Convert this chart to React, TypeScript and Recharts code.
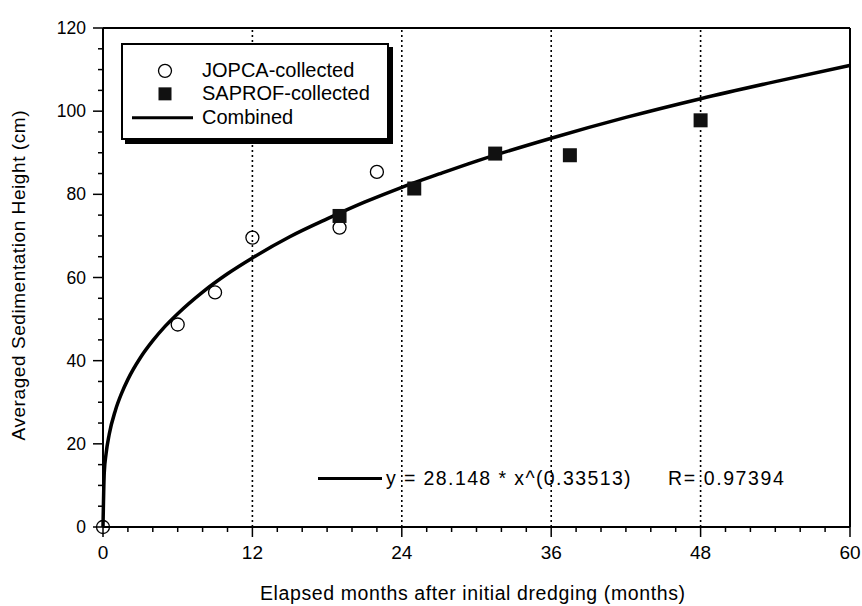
import React from 'react';
import { ComposedChart, XAxis, YAxis, Line, Scatter, ReferenceLine, Legend, Label } from 'recharts';

const FONT = '"Liberation Sans", Arial, Helvetica, sans-serif';

// JOPCA-collected (open circles)
const jopcaX = [0, 6, 9, 12, 19, 22];
const jopcaY = [0, 48.7, 56.4, 69.6, 72.0, 85.4];
// SAPROF-collected (filled squares)
const saprofX = [19, 25, 31.5, 37.5, 48];
const saprofY = [74.8, 81.4, 89.8, 89.4, 97.8];
// Combined fitted curve
const curveX = [0, 0.1, 0.25, 0.5, 1, 1.5, 2, 3, 4, 5, 6, 8, 10, 12, 15, 18, 21, 24, 27, 30, 36, 42, 48, 54, 60];
const curveY = [0, 13.0, 17.7, 22.3, 28.1, 32.2, 35.5, 40.7, 44.8, 48.3, 51.3, 56.5, 60.9, 64.7, 69.8, 74.1, 78.1, 81.7, 84.9, 88.0, 93.5, 98.5, 103.0, 107.1, 111.0];

const seriesNames = ['JOPCA-collected', 'SAPROF-collected', 'Combined'];
const xMajorTicks = [0, 12, 24, 36, 48, 60];
const xMinorTicks = [0, 2, 4, 6, 8, 10, 12, 14, 16, 18, 20, 22, 24, 26, 28, 30, 32, 34, 36, 38, 40, 42, 44, 46, 48, 50, 52, 54, 56, 58, 60];
const yMajorTicks = [0, 20, 40, 60, 80, 100, 120];
const yMinorTicks = [0, 5, 10, 15, 20, 25, 30, 35, 40, 45, 50, 55, 60, 65, 70, 75, 80, 85, 90, 95, 100, 105, 110, 115, 120];
const gridX = [12, 24, 36, 48];
const xTitle = 'Elapsed months after initial dredging (months)';
const yTitle = 'Averaged Sedimentation Height (cm)';
const equationText = 'y = 28.148 * x^(0.33513)';
const rText = 'R= 0.97394';

const jopca = jopcaX.map((x, i) => ({ x, y: jopcaY[i] }));
const saprof = saprofX.map((x, i) => ({ x, y: saprofY[i] }));
const curve = curveX.map((x, i) => ({ x, y: curveY[i] }));

function BottomTick(props: any) {
  const { x, y, payload } = props;
  const v = payload.value;
  const major = xMajorTicks.includes(v);
  return (
    <g>
      <line x1={x} y1={y} x2={x} y2={y + (major ? 10 : 5)} stroke="#000" strokeWidth={1.5} />
      {major && (
        <text x={x} y={y + 32} textAnchor="middle" fontSize={19} fontFamily={FONT} fill="#000">
          {v}
        </text>
      )}
    </g>
  );
}

function TopTick(props: any) {
  const { x, y, payload } = props;
  const major = xMajorTicks.includes(payload.value);
  return <line x1={x} y1={y} x2={x} y2={y - (major ? 10 : 5)} stroke="#000" strokeWidth={1.5} />;
}

function LeftTick(props: any) {
  const { x, y, payload } = props;
  const v = payload.value;
  const major = yMajorTicks.includes(v);
  return (
    <g>
      <line x1={x} y1={y} x2={x - (major ? 10 : 5)} y2={y} stroke="#000" strokeWidth={1.5} />
      {major && (
        <text x={x - 17} y={y + 6} textAnchor="end" fontSize={17.5} fontFamily={FONT} fill="#000">
          {v}
        </text>
      )}
    </g>
  );
}

function RightTick(props: any) {
  const { x, y, payload } = props;
  const major = yMajorTicks.includes(payload.value);
  return <line x1={x} y1={y} x2={x + (major ? 10 : 6)} y2={y} stroke="#000" strokeWidth={1.5} />;
}

const CircleShape = (props: any) => (
  <circle cx={props.cx} cy={props.cy} r={6.5} fill="none" stroke="#000" strokeWidth={1.3} />
);
const SquareShape = (props: any) => (
  <rect x={props.cx - 7} y={props.cy - 7} width={14} height={14} fill="#111" />
);

function LegendIcon({ type }: { type: string }) {
  return (
    <svg width={79} height={23.7} style={{ display: 'block', flex: '0 0 auto' }}>
      {type === 'circle' && <circle cx={42} cy={11.85} r={6.5} fill="none" stroke="#000" strokeWidth={1.3} />}
      {type === 'square' && <rect x={35.5} y={5.35} width={13} height={13} fill="#111" />}
      {type === 'line' && <line x1={9} y1={11.85} x2={70} y2={11.85} stroke="#000" strokeWidth={3} />}
    </svg>
  );
}

function renderLegend(props: any) {
  const payload: any[] = (props.payload || []).slice();
  payload.sort((a, b) => seriesNames.indexOf(a.value) - seriesNames.indexOf(b.value));
  return (
    <div
      style={{
        width: 268,
        height: 97,
        boxSizing: 'border-box',
        border: '2px solid #000',
        boxShadow: '4px 4px 0 #000',
        background: '#fff',
        paddingTop: 13.6,
        fontFamily: FONT,
        fontSize: 20,
        color: '#000',
      }}
    >
      {payload.map((p: any) => (
        <div key={p.value} style={{ display: 'flex', alignItems: 'center', height: 23.7, lineHeight: '23.7px' }}>
          <LegendIcon type={p.type} />
          <span style={{ whiteSpace: 'nowrap' }}>{p.value}</span>
        </div>
      ))}
    </div>
  );
}

export default function App() {
  return (
    <div style={{ position: 'absolute', left: 0, top: 0, width: 862, height: 606, background: '#fff' }}>
      <ComposedChart width={862} height={606} margin={{ top: 10, right: 0, bottom: 0, left: 0 }}>
        <XAxis
          xAxisId="bottom"
          dataKey="x"
          type="number"
          domain={[0, 60]}
          ticks={xMinorTicks}
          interval={0}
          orientation="bottom"
          height={79}
          tickSize={0}
          tickMargin={0}
          tickLine={false}
          tick={<BottomTick />}
          axisLine={{ stroke: '#000', strokeWidth: 2 }}
        >
          <Label
            content={(p: any) => {
              const vb = p.viewBox || { x: 103, y: 527, width: 747 };
              return (
                <text
                  x={vb.x + vb.width / 2 - 4}
                  y={vb.y + 73}
                  textAnchor="middle"
                  fontSize={19.5}
                  fontFamily={FONT}
                  fill="#000"
                  textLength={425}
                  lengthAdjust="spacing"
                >
                  {xTitle}
                </text>
              );
            }}
          />
        </XAxis>
        <XAxis
          xAxisId="top"
          dataKey="x"
          type="number"
          domain={[0, 60]}
          ticks={xMinorTicks}
          interval={0}
          orientation="top"
          height={18}
          tickSize={0}
          tickMargin={0}
          tickLine={false}
          tick={<TopTick />}
          axisLine={{ stroke: '#000', strokeWidth: 2 }}
        />
        <YAxis
          yAxisId="left"
          dataKey="y"
          type="number"
          domain={[0, 120]}
          ticks={yMinorTicks}
          interval={0}
          orientation="left"
          width={103}
          tickSize={0}
          tickMargin={0}
          tickLine={false}
          tick={<LeftTick />}
          axisLine={{ stroke: '#000', strokeWidth: 2 }}
        >
          <Label
            content={(p: any) => {
              const vb = p.viewBox || { x: 0, y: 28, width: 103, height: 499 };
              const cy = vb.y + vb.height / 2 - 2;
              return (
                <text
                  x={25}
                  y={cy}
                  transform={`rotate(-90, 25, ${cy})`}
                  textAnchor="middle"
                  fontSize={19}
                  fontFamily={FONT}
                  fill="#000"
                  textLength={330}
                  lengthAdjust="spacing"
                >
                  {yTitle}
                </text>
              );
            }}
          />
        </YAxis>
        <YAxis
          yAxisId="right"
          type="number"
          domain={[0, 120]}
          ticks={yMinorTicks}
          interval={0}
          orientation="right"
          width={12}
          tickSize={0}
          tickMargin={0}
          tickLine={false}
          tick={<RightTick />}
          axisLine={{ stroke: '#000', strokeWidth: 2 }}
        />
        {gridX.map((g) => (
          <ReferenceLine
            key={g}
            x={g}
            xAxisId="bottom"
            yAxisId="left"
            stroke="#000"
            strokeWidth={1.6}
            strokeDasharray="2 3"
          />
        ))}
        <Line
          xAxisId="bottom"
          yAxisId="left"
          data={curve}
          dataKey="y"
          name="Combined"
          type="monotone"
          stroke="#000"
          strokeWidth={3.5}
          dot={false}
          legendType="line"
          isAnimationActive={false}
        />
        <Scatter
          xAxisId="bottom"
          yAxisId="left"
          data={jopca}
          dataKey="y"
          name="JOPCA-collected"
          shape={CircleShape}
          legendType="circle"
          isAnimationActive={false}
        />
        <Scatter
          xAxisId="bottom"
          yAxisId="left"
          data={saprof}
          dataKey="y"
          name="SAPROF-collected"
          shape={SquareShape}
          legendType="square"
          isAnimationActive={false}
        />
        <Legend
          layout="vertical"
          align="center"
          verticalAlign="middle"
          wrapperStyle={{ left: 121, top: 43, width: 'auto', height: 'auto' }}
          content={renderLegend}
        />
      </ComposedChart>
      <div style={{ position: 'absolute', left: 318, top: 476.5, width: 64, height: 3.5, background: '#000' }} />
      <div
        style={{
          position: 'absolute',
          left: 386,
          top: 466,
          height: 25,
          lineHeight: '25px',
          fontFamily: FONT,
          fontSize: 19.5,
          letterSpacing: 1.4,
          whiteSpace: 'nowrap',
          color: '#000',
        }}
      >
        {equationText}
      </div>
      <div
        style={{
          position: 'absolute',
          left: 668,
          top: 466,
          height: 25,
          lineHeight: '25px',
          fontFamily: FONT,
          fontSize: 19.5,
          letterSpacing: 1.6,
          whiteSpace: 'nowrap',
          color: '#000',
        }}
      >
        {rText}
      </div>
    </div>
  );
}
